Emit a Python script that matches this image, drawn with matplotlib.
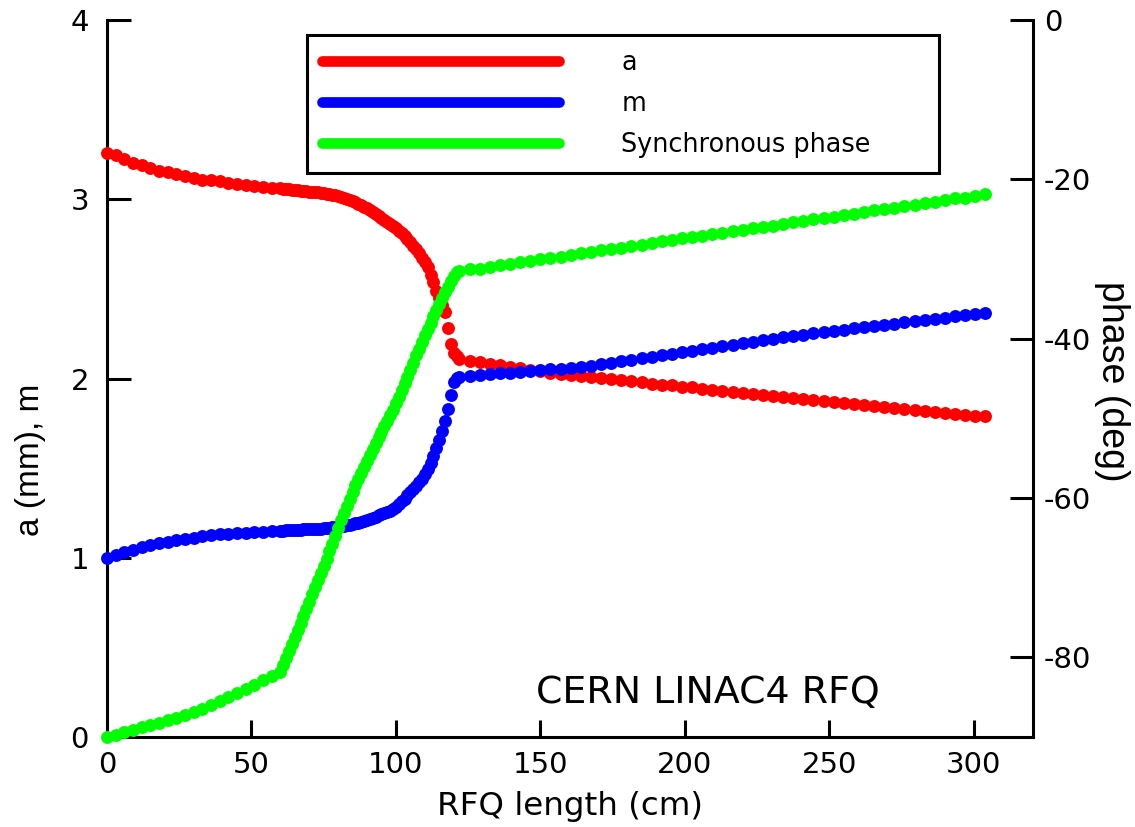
import matplotlib
matplotlib.use("Agg")
import matplotlib.pyplot as plt
from matplotlib.lines import Line2D

# ---------------- data ----------------
length_cm = [0, 3, 6, 9, 12, 15, 18, 21, 24, 27, 30, 33, 36, 39, 42, 45, 48, 51, 54, 57,
             60, 61, 62, 63, 64, 65, 66, 67, 68, 69, 70, 71, 72, 73, 74, 75, 76, 77, 78, 79,
             80, 81, 82, 83, 84, 85, 86, 87, 88, 89, 90, 91, 92, 93, 94, 95, 96, 97, 98, 99,
             100, 101, 102, 103, 104, 105, 106, 107, 108, 109, 110, 111, 112, 113, 114, 115,
             116, 117, 118, 119, 120, 121,
             122, 125.5, 129, 132.5, 136, 139.5, 143, 146.5, 150, 153.5, 157, 160.5, 164, 167.5,
             171, 174.5, 178, 181.5, 185, 188.5, 192, 195.5, 199, 202.5, 206, 209.5, 213, 216.5,
             220, 223.5, 227, 230.5, 234, 237.5, 241, 244.5, 248, 251.5, 255, 258.5, 262, 265.5,
             269, 272.5, 276, 279.5, 283, 286.5, 290, 293.5, 297, 300.5, 304]

a_mm = [3.26, 3.245, 3.225, 3.205, 3.19, 3.175, 3.16, 3.15, 3.14, 3.13, 3.12, 3.11, 3.105, 3.10,
        3.09, 3.085, 3.08, 3.075, 3.07, 3.065,
        3.060, 3.058, 3.057, 3.055, 3.053, 3.052, 3.050, 3.048, 3.047, 3.045, 3.043, 3.042,
        3.040, 3.038, 3.037, 3.035, 3.032, 3.028, 3.025, 3.022, 3.018, 3.015, 3.008, 3.002,
        2.995, 2.988, 2.982, 2.975, 2.967, 2.958, 2.950, 2.940, 2.930, 2.920, 2.908, 2.897,
        2.885, 2.873, 2.862, 2.850, 2.838, 2.825, 2.810, 2.795, 2.778, 2.760, 2.740, 2.720,
        2.698, 2.675, 2.650, 2.620, 2.580, 2.540, 2.490, 2.450, 2.410, 2.370, 2.280, 2.190,
        2.145, 2.125,
        2.11, 2.10, 2.09, 2.082, 2.073, 2.065, 2.057, 2.048, 2.04, 2.033, 2.027, 2.02, 2.015, 2.01,
        2.003, 1.997, 1.99, 1.985, 1.978, 1.972, 1.966, 1.961, 1.955, 1.95, 1.944, 1.938, 1.932,
        1.927, 1.921, 1.915, 1.91, 1.904, 1.898, 1.893, 1.887, 1.881, 1.876, 1.87, 1.864, 1.859,
        1.853, 1.847, 1.842, 1.836, 1.83, 1.825, 1.819, 1.813, 1.808, 1.802, 1.797, 1.792, 1.79]

m_val = [1.00, 1.015, 1.03, 1.045, 1.06, 1.07, 1.08, 1.09, 1.10, 1.105, 1.11, 1.12, 1.125, 1.13,
         1.135, 1.14, 1.14, 1.145, 1.145, 1.15,
         1.150, 1.152, 1.153, 1.155, 1.155, 1.155, 1.155, 1.157, 1.158, 1.160, 1.160, 1.160,
         1.160, 1.162, 1.163, 1.165, 1.167, 1.168, 1.170, 1.172, 1.173, 1.175, 1.178, 1.182,
         1.185, 1.188, 1.192, 1.195, 1.200, 1.205, 1.210, 1.217, 1.223, 1.230, 1.237, 1.243,
         1.250, 1.257, 1.263, 1.270, 1.285, 1.300, 1.315, 1.330, 1.348, 1.365, 1.383, 1.400,
         1.420, 1.440, 1.465, 1.495, 1.530, 1.570, 1.610, 1.655, 1.705, 1.765, 1.830, 1.910,
         1.980, 2.005,
         2.010, 2.015, 2.019, 2.024, 2.028, 2.033, 2.037, 2.042, 2.046, 2.051, 2.055, 2.060, 2.064,
         2.072, 2.080, 2.089, 2.097, 2.105, 2.113, 2.121, 2.130, 2.138, 2.146, 2.154, 2.163, 2.171,
         2.179, 2.187, 2.196, 2.204, 2.212, 2.220, 2.229, 2.237, 2.245, 2.252, 2.259, 2.266, 2.273,
         2.279, 2.286, 2.293, 2.300, 2.306, 2.313, 2.320, 2.327, 2.333, 2.340, 2.347, 2.354, 2.360,
         2.368]

phase_deg = [-90.0, -89.7, -89.4, -89.1, -88.8, -88.5, -88.2, -87.9, -87.6, -87.2, -86.9, -86.5,
             -86.0, -85.5, -85.0, -84.5, -84.0, -83.5, -82.9, -82.4,
             -81.9, -81.0, -80.1, -79.2, -78.3, -77.5, -76.6, -75.7, -74.8, -73.9, -73.0, -72.1,
             -71.2, -70.3, -69.4, -68.5, -67.6, -66.7, -65.8, -64.8, -63.8, -62.8, -61.9, -61.0,
             -60.1, -59.3, -58.4, -57.6, -56.8, -56.1, -55.3, -54.6, -53.8, -53.1, -52.4, -51.7,
             -51.0, -50.3, -49.6, -48.9, -48.1, -47.3, -46.5, -45.6, -44.8, -43.9, -43.0, -42.1,
             -41.3, -40.4, -39.6, -38.8, -38.0, -37.2, -36.4, -35.6, -34.9, -34.2, -33.5, -32.8,
             -32.1, -31.6,
             -31.5, -31.3, -31.2, -31.0, -30.8, -30.6, -30.4, -30.2, -30.0, -29.9, -29.7, -29.5,
             -29.3, -29.1, -28.9, -28.7, -28.6, -28.4, -28.2, -28.0, -27.8, -27.6, -27.4, -27.3,
             -27.1, -26.9, -26.7, -26.5, -26.3, -26.1, -26.0, -25.8, -25.6, -25.4, -25.2, -25.0,
             -24.8, -24.7, -24.5, -24.3, -24.1, -23.9, -23.7, -23.6, -23.4, -23.2, -23.0, -22.8,
             -22.6, -22.4, -22.3, -22.1, -21.9]

x_ticks = [0, 50, 100, 150, 200, 250, 300]
x_tick_labels = ["0", "50", "100", "150", "200", "250", "300"]
left_ticks = [0, 1, 2, 3, 4]
left_tick_labels = ["0", "1", "2", "3", "4"]
right_ticks = [0, -20, -40, -60, -80]
right_tick_labels = ["0", "-20", "-40", "-60", "-80"]

series_labels = ["a", "m", "Synchronous phase"]
series_colors = ["#ff0000", "#0000ff", "#00ff00"]

# ---------------- figure ----------------
W, H = 1135, 827
fig = plt.figure(figsize=(W / 100, H / 100), dpi=100)
ax = fig.add_axes([107 / W, 1 - 737 / H, 926 / W, 717 / H])
ax2 = ax.twinx()

ms = 9.3
ax.plot(length_cm, a_mm, "o", color=series_colors[0], ms=ms, mew=0, zorder=2, clip_on=False)
ax.plot(length_cm, m_val, "o", color=series_colors[1], ms=ms, mew=0, zorder=3, clip_on=False)
ax2.plot(length_cm, phase_deg, "o", color=series_colors[2], ms=ms, mew=0, zorder=2, clip_on=False)

ax.set_xlim(0, 320.5)
ax.set_ylim(0, 4)
ax2.set_ylim(-90, 0)

lw = 2.2
ax.spines["top"].set_visible(False)
ax.spines["right"].set_visible(False)
ax2.spines["top"].set_visible(False)
ax2.spines["left"].set_visible(False)
ax2.spines["bottom"].set_visible(False)
for sp in ("left", "bottom"):
    ax.spines[sp].set_linewidth(lw)
    ax.spines[sp].set_zorder(0.5)
ax2.spines["right"].set_linewidth(lw)

ax.set_xticks(x_ticks)
ax.set_xticklabels(x_tick_labels)
ax.set_yticks(left_ticks)
ax.set_yticklabels(left_tick_labels)
ax2.set_yticks(right_ticks)
ax2.set_yticklabels(right_tick_labels)

tick_font = "DejaVu Sans"
ax.tick_params(axis="x", direction="in", length=12.2, width=lw, labelsize=21, pad=10,
               labelfontfamily=tick_font, top=False)
ax.tick_params(axis="y", direction="in", length=17.3, width=lw, labelsize=21, pad=13,
               labelfontfamily=tick_font, right=False)
ax2.tick_params(axis="y", direction="in", length=16.6, width=lw, labelsize=21, pad=8,
                labelfontfamily=tick_font)

ax.set_xlabel("RFQ length (cm)", fontsize=23.4, fontfamily="DejaVu Sans")
ax.xaxis.set_label_coords(0.5, -0.1088)
ax.xaxis.label.set_va("baseline")

ax.set_ylabel("a (mm), m", fontsize=24, fontfamily="Liberation Sans")
ax.yaxis.set_label_coords(-0.083, 0.386)
ax.yaxis.label.set_va("center")

ax2.set_ylabel("phase (deg)", fontsize=27, fontfamily="Liberation Sans", rotation=270)
ax2.yaxis.set_label_coords(1.085, 0.4965)
ax2.yaxis.label.set_va("center")

ax.text(0.6485, 0.0474, "CERN LINAC4 RFQ", transform=ax.transAxes, ha="center", va="baseline",
        fontsize=27.3, fontfamily="DejaVu Sans", color="black")

handles = [Line2D([], [], color=c, lw=7.7, solid_capstyle="round") for c in series_colors]
leg = ax2.legend(handles, series_labels, loc="upper left",
                 bbox_to_anchor=(307 / W, 1 - 173 / H, 632 / W, 138 / H),
                 bbox_transform=fig.transFigure, mode="expand", borderaxespad=0,
                 prop={"family": "DejaVu Sans", "size": 18.4},
                 handlelength=9.3, handletextpad=2.42, labelspacing=0.59,
                 borderpad=0.58, fancybox=False, framealpha=1, edgecolor="black")
leg.get_frame().set_linewidth(lw)
leg.set_zorder(10)

fig.savefig("out.png", dpi=100)
